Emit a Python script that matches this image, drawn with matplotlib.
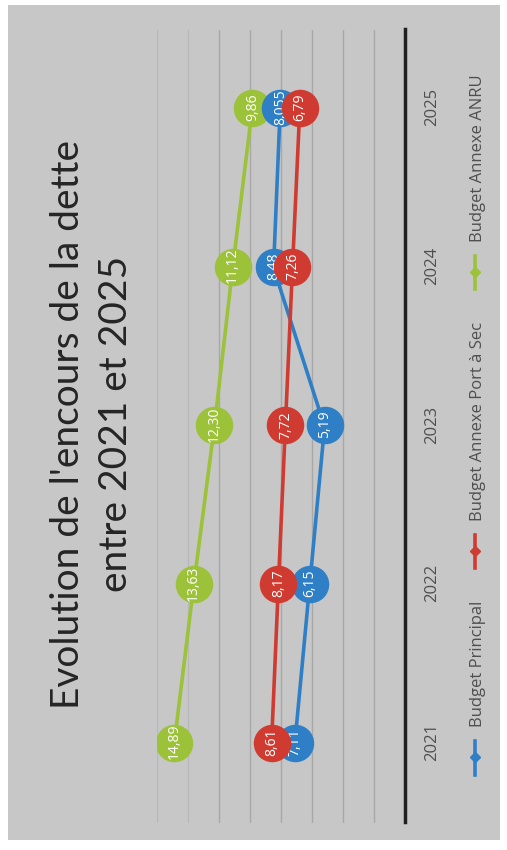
import numpy as np
import matplotlib
matplotlib.use("Agg")
import matplotlib.pyplot as plt
from matplotlib.lines import Line2D
from matplotlib.patches import Rectangle

annees = ["2021", "2022", "2023", "2024", "2025"]
budget_principal = [7.11, 6.15, 5.19, 8.48, 8.055]
port_a_sec = [8.61, 8.17, 7.72, 7.26, 6.79]
anru = [14.89, 13.63, 12.30, 11.12, 9.86]

series = [
    ("Budget Principal", budget_principal, "#2f7fc6"),
    ("Budget Annexe Port à Sec", port_a_sec, "#cf3b30"),
    ("Budget Annexe ANRU", anru, "#9cc23a"),
]
ordre_dessin = [2, 0, 1]   # vert dessous, rouge au-dessus

def fmt(v):
    s = ("%.3f" % v).rstrip("0").rstrip(".")
    if "." in s and len(s.split(".")[1]) < 2:
        s = "%.2f" % v
    return s.replace(".", ",")

W, H = 850, 507
fig = plt.figure(figsize=(W / 100, H / 100), dpi=100, facecolor="white")
fig.patches.append(Rectangle((10 / W, 7 / H), 835 / W, 492 / H, transform=fig.transFigure,
                             facecolor="#c7c7c7", edgecolor="none", zorder=-5))

ax = fig.add_axes([27 / W, 1 - 405 / H, 793 / W, 248 / H])
ax.set_zorder(2)
ax.set_facecolor("none")
x = np.arange(len(annees))
ax.set_xlim(-0.5, len(annees) - 0.5)
ax.set_ylim(0, 16)
ax.set_yticks([])
for g in range(2, 17, 2):
    ax.axhline(g, color="#a8a8a8" if g <= 12 else "#b8b8b8", linewidth=1.0, zorder=1)
ax.set_xticks(x)
ax.set_xticklabels(annees, fontsize=12, color="#505050", family="Open Sans")
ax.tick_params(axis="x", length=0, pad=14)
for s in ["top", "left", "right"]:
    ax.spines[s].set_visible(False)
ax.spines["bottom"].set_color("#202020")
ax.spines["bottom"].set_linewidth(2.5)

for rang, i in enumerate(ordre_dessin):
    nom, vals, coul = series[i]
    z = 3 + rang * 3
    ax.plot(x, vals, color=coul, linewidth=2.6, zorder=z)
    ax.plot(x, vals, "o", color=coul, markersize=27, markeredgewidth=0, zorder=z + 1)
    for xi, v in zip(x, vals):
        ax.text(xi, v, fmt(v), color="white", fontsize=10, ha="center", va="center",
                family="Open Sans", zorder=z + 2)

fig.text(0.5, 1 - 67 / H, "Evolution de l'encours de la dette", ha="center", va="center",
         fontsize=28, color="#262626", family="Lato")
fig.text(0.5, 1 - 115 / H, "entre 2021 et 2025", ha="center", va="center",
         fontsize=28, color="#262626", family="Lato")

handles = [Line2D([0], [0], color=c, linewidth=2.6, marker="D", markersize=5) for _, _, c in series]
fig.legend(handles, [s[0] for s in series], loc="center", bbox_to_anchor=(0.5, 1 - 477 / H),
           ncol=3, frameon=False, labelcolor="#505050", handlelength=2.0,
           columnspacing=2.0, prop={"family": "Open Sans", "size": 12})

fig.canvas.draw()
img = np.asarray(fig.canvas.buffer_rgba())
plt.imsave("out.png", np.rot90(img, k=1))
